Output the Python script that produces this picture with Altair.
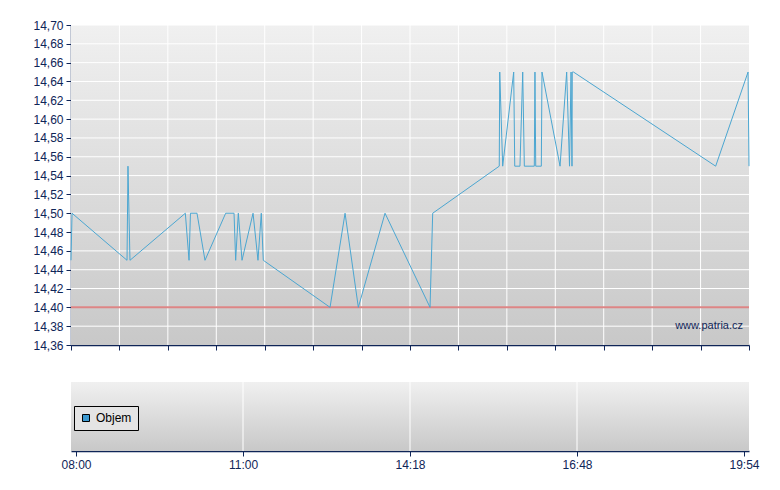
import altair as alt
import pandas as pd

# ---- data ----
t_min = [0, 1.1, 59.0, 60.0, 62.1, 120.4, 124.3, 125.8, 132.7, 141.1, 162.9, 171.7,
         173.4, 176.2, 180.1, 191.7, 196.9, 200.4, 202.5, 272.8, 288.6, 302.6, 330.7,
         378.1, 380.9, 451.0, 451.5, 454.6, 466.2, 467.3, 472.8, 475.7, 477.4, 487.9,
         488.6, 489.4, 495.3, 496.0, 515.0, 522.0, 525.0, 526.6, 527.6, 527.9, 529.2,
         678.9, 713.0, 714.0]
price = [14.45, 14.50, 14.45, 14.55, 14.45, 14.50, 14.45, 14.50, 14.50, 14.45, 14.50,
         14.50, 14.45, 14.50, 14.45, 14.50, 14.45, 14.50, 14.45, 14.40, 14.50, 14.40,
         14.50, 14.40, 14.50, 14.55, 14.65, 14.55, 14.65, 14.55, 14.55, 14.65, 14.55,
         14.55, 14.65, 14.55, 14.55, 14.65, 14.55, 14.65, 14.55, 14.65, 14.55, 14.65,
         14.65, 14.55, 14.65, 14.55]
volume = [0] * len(t_min)
ref_price = [14.40]
y_ticks = [14.36, 14.38, 14.40, 14.42, 14.44, 14.46, 14.48, 14.50, 14.52, 14.54,
           14.56, 14.58, 14.60, 14.62, 14.64, 14.66, 14.68, 14.70]
x_ticks = [0, 51, 102, 153, 204, 255, 306, 357, 408, 459, 510, 561, 612, 663, 714]
time_pos = [0, 178.5, 357, 535.5, 714]
time_labels = ["08:00", "11:00", "14:18", "16:48", "19:54"]
watermark = ["www.patria.cz"]

NAVY = "#0f2557"
LINE = "#4ba6d1"
W, H1, H2 = 678, 320, 69
FONT = "Liberation Sans"
NARROW = "Liberation Sans Narrow, Liberation Sans"

df = pd.DataFrame({"t": t_min, "price": price, "vol": volume,
                   "i": list(range(len(t_min))), "series": "Objem"})

xscale = alt.Scale(domain=[0, 714], nice=False, zero=False)
yscale = alt.Scale(domain=[14.36, 14.70], nice=False, zero=False)

label_expr_y = "replace(format(datum.value, '.2f'), '.', ',')"
x_axis_main = alt.Axis(values=x_ticks, labels=False, title=None, grid=False,
                       tickColor=NAVY, domainColor=NAVY, tickSize=5,
                       domainWidth=1.5, tickWidth=1)
y_axis_main = alt.Axis(values=y_ticks, labelExpr=label_expr_y, title=None,
                       grid=False, tickColor=NAVY, domainColor=NAVY, tickSize=5,
                       labelColor=NAVY, labelFont=FONT, labelFontSize=12,
                       labelPadding=3, domainWidth=1.5, tickWidth=1,
                       minExtent=63, maxExtent=63)

lab_arr = "[" + ",".join("'%s'" % s for s in time_labels) + "]"
label_expr_x = lab_arr + "[round(datum.value / 178.5)]"
x_axis_vol = alt.Axis(values=time_pos, labelExpr=label_expr_x, title=None,
                      grid=False, tickColor=NAVY, domainColor=NAVY, tickSize=5,
                      labelColor=NAVY, labelFont=NARROW, labelFontSize=12,
                      labelPadding=3, domainWidth=1.5, tickWidth=1,
                      labelFlush=False, labelAlign="center", labelBound=False)
y_axis_vol = alt.Axis(labels=False, ticks=False, domain=False, grid=False,
                      title=None, minExtent=63, maxExtent=63)

grad = alt.Gradient(gradient="linear",
                    stops=[alt.GradientStop(color="#f0f0f0", offset=0),
                           alt.GradientStop(color="#c8c8c8", offset=1)],
                    x1=0, x2=0, y1=0, y2=1)

one = alt.Data(values=[{"k": 1}])


def bg(h):
    return alt.Chart(one).mark_rect(color=grad).encode(
        x=alt.value(0), x2=alt.value(W), y=alt.value(0), y2=alt.value(h))


# ---- main price panel ----
vgrid = alt.Chart(pd.DataFrame({"t": x_ticks[1:-1]})).mark_rule(
    color="white", strokeWidth=1).encode(x=alt.X("t:Q", scale=xscale, axis=x_axis_main))
hgrid = alt.Chart(pd.DataFrame({"price": y_ticks[1:]})).mark_rule(
    color="white", strokeWidth=1).encode(y=alt.Y("price:Q", scale=yscale, axis=y_axis_main))
ref = alt.Chart(pd.DataFrame({"price": ref_price})).mark_rule(
    color="#dd8585", strokeWidth=2).encode(y=alt.Y("price:Q", scale=yscale, axis=y_axis_main))

line = alt.Chart(df).mark_line(color=LINE, strokeWidth=1).encode(
    x=alt.X("t:Q", scale=xscale, axis=x_axis_main),
    y=alt.Y("price:Q", scale=yscale, axis=y_axis_main),
    order="i:Q",
)
wm = alt.Chart(pd.DataFrame({"t": [714], "price": [14.38], "s": watermark})).mark_text(
    align="right", baseline="middle", dx=-6, font=FONT, fontSize=11, color=NAVY
).encode(x=alt.X("t:Q", scale=xscale, axis=x_axis_main),
         y=alt.Y("price:Q", scale=yscale, axis=y_axis_main), text="s:N")

main = alt.layer(bg(H1), vgrid, hgrid, ref, line, wm).properties(width=W, height=H1)

# ---- volume panel ----
vgrid2 = alt.Chart(pd.DataFrame({"t": time_pos[1:-1]})).mark_rule(
    color="white", strokeWidth=1).encode(x=alt.X("t:Q", scale=xscale, axis=x_axis_vol))

bars = alt.Chart(df).mark_bar(size=2).encode(
    x=alt.X("t:Q", scale=xscale, axis=x_axis_vol),
    y=alt.Y("vol:Q", scale=alt.Scale(domain=[0, 1]), axis=y_axis_vol),
    color=alt.Color("series:N", scale=alt.Scale(domain=["Objem"], range=["#3d9ad1"]),
                    legend=alt.Legend(title=None, orient="none", legendX=3, legendY=24,
                                      fillColor="#e4e4e4", strokeColor="#000000",
                                      padding=6, symbolType="square", symbolSize=49,
                                      symbolStrokeColor="#000000", symbolStrokeWidth=1,
                                      symbolOpacity=1, labelOffset=4, labelFont=NARROW,
                                      labelFontSize=12, labelColor="#000000")),
)
vol = alt.layer(bg(H2), vgrid2, bars).properties(width=W, height=H2)

chart = alt.vconcat(main, vol, spacing=30).resolve_legend(color="independent") \
    .properties(padding={"left": 0, "top": 11, "right": 5, "bottom": 5}) \
    .configure_view(stroke=None)

chart.save("out.html", embed_options={"renderer": "svg", "actions": False})
